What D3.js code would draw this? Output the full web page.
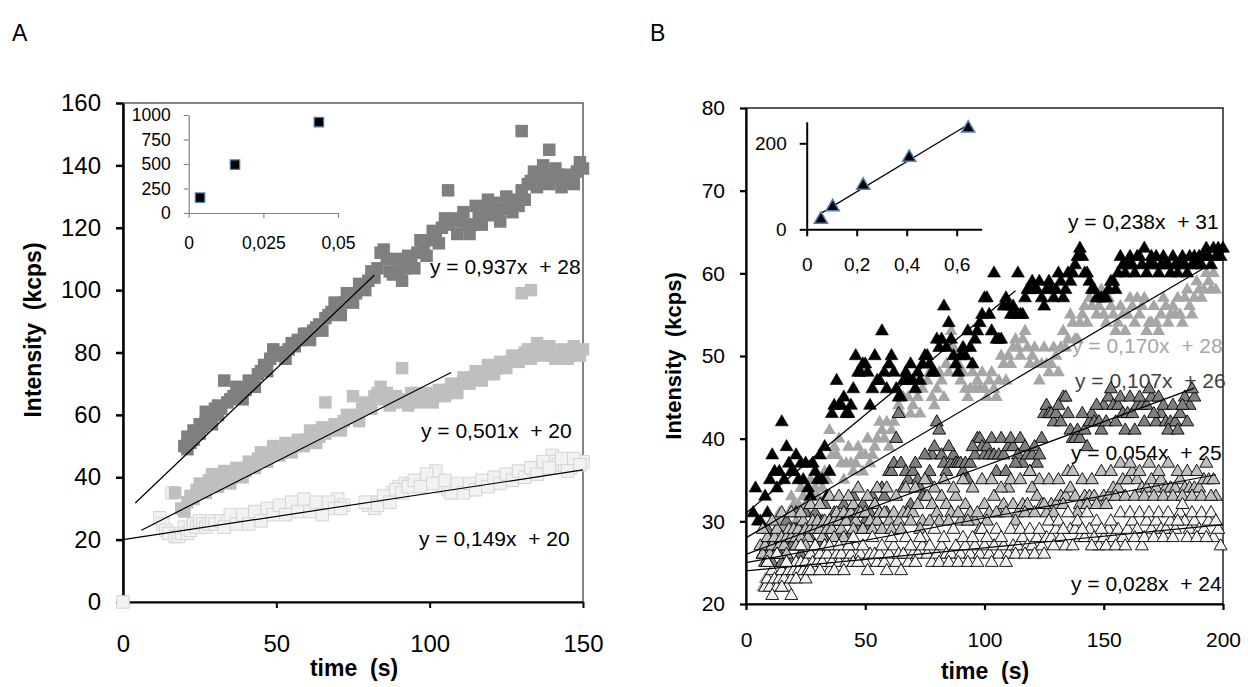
<!DOCTYPE html>
<html lang="en">
<head>
<meta charset="utf-8">
<title>Intensity vs time</title>
<script src="https://cdn.jsdelivr.net/npm/d3@7"></script>
<style>
  body { margin: 0; background: #fff; }
  svg { font-family: Arial, "Liberation Sans", sans-serif; }
</style>
</head>
<body>
<svg id="chart" width="1248" height="687"></svg>
<script>
// ---------- panel A data : [time s, intensity kcps] ----------
const aDark = [[20,50],[21,53],[22,51],[23,55],[24,54],[25,57],[26,56],[27,58],[28,60],[29,59],[30,62],[31,63],[32,62],[33,71],[34,64],[35,65],[36,66],[38,67],[40,68],[42,70],[44,73],[45,74],[46,76],[48,78],[50,79],[51,80],[52,80],[54,81],[56,82],[57,84],[58,84],[60,86],[62,87],[63,88],[64,89],[66,91],[67,92],[68,93],[70,94],[72,96],[74,98],[76,99],[78,101],[80,103],[82,104],[83,107],[84,112],[85,113],[86,110],[87,106],[88,105],[90,106],[92,107],[94,110],[96,112],[98,114],[100,116],[102,118],[104,120],[106,132],[106,121],[108,123],[110,122],[112,121],[114,121],[116,124],[118,126],[120,124],[122,125],[124,126],[126,127],[128,129],[130,132],[130,151],[132,134],[134,138],[136,137],[138,137],[139,145],[140,136],[142,137],[144,135],[146,136],[148,138],[150,139],
  [21,49],[23,52],[25,54],[27,61],[29,57],[31,60],[37,69],[39,65],[41,71],[43,69],[47,74],[49,81],[53,78],[55,83],[59,86],[61,84],[65,87],[69,96],[71,92],[73,99],[75,96],[77,102],[79,100],[81,106],
  [89,110],[91,103],[93,111],[95,107],[97,116],[99,111],[101,119],[103,115],[105,123],[109,118],[111,125],[113,118],[115,127],[117,121],[119,129],[121,128],[123,122],[125,130],[127,125],[129,127],[131,129],[133,135],[135,133],[137,140],[139,134],[141,139],[143,133],[145,137],[147,134],[149,141]];
const aLight = [[17,35],[19,30],[20,29],[21,32],[22,34],[24,36],[26,37],[28,39],[30,38],[32,40],[34,39],[36,40],[38,41],[40,42],[42,44],[44,46],[46,47],[48,47],[50,48],[52,48],[54,49],[56,50],[58,51],[60,52],[62,52],[64,53],[66,64],[66,54],[68,55],[70,56],[72,58],[74,59],[75,66],[76,60],[78,62],[80,63],[82,66],[84,69],[86,67],[88,64],[90,64],[91,75],[92,65],[94,67],[96,67],[98,66],[100,66],[102,66],[104,67],[106,68],[108,69],[110,70],[112,71],[114,72],[116,73],[118,74],[120,75],[122,75],[124,76],[126,77],[128,78],[130,99],[133,100],[130,79],[132,81],[134,81],[136,81],[138,80],[140,79],[142,79],[144,79],[146,80],[148,80],[150,81],
  [23,33],[25,38],[27,35],[29,41],[31,37],[33,42],[35,38],[37,43],[39,40],[41,45],[43,43],[45,48],[47,45],[49,50],[51,47],[53,51],[55,48],[57,52],[59,50],[61,55],[63,51],[65,56],[67,55],[69,57],[71,55],[73,60],[77,58],[79,64],[81,62],[83,67],[85,65],[87,63],[89,66],[93,63],[95,66],[97,64],[99,67],[101,64],[103,68],[105,66],[107,70],[109,67],[111,72],[113,70],[115,74],[117,71],[119,76],[121,73],[123,77],[125,75],[127,79],[129,77],[131,80],[133,78],[135,83],[137,79],[139,82],[141,78],[143,81],[145,78],[147,82],[149,79]];
const aPale = [[0,0],[12,27],[13,25],[14,23],[15,22],[16,35],[17,21],[18,21],[19,22],[20,24],[21,22],[22,23],[23,25],[24,24],[25,26],[26,25],[27,24],[28,25],[29,26],[30,25],[32,26],[34,26],[36,27],[38,26],[40,27],[42,27],[44,28],[46,28],[48,29],[50,29],[52,30],[54,30],[56,31],[58,32],[60,31],[62,30],[64,30],[66,30],[68,31],[70,33],[72,31],[80,31],[81,32],[82,30],[84,32],[86,33],[88,35],[90,37],[92,38],[94,38],[96,38],[98,39],[100,40],[102,42],[103,38],[104,37],[106,36],[108,36],[110,36],[112,36],[114,37],[116,37],[118,38],[120,38],[122,39],[124,40],[126,40],[128,41],[130,41],[132,42],[134,42],[136,43],[138,44],[140,47],[141,45],[142,44],[144,44],[146,43],[148,45],[150,45],
  [33,24],[35,28],[37,25],[39,28],[41,25],[43,29],[45,26],[47,30],[49,28],[51,31],[53,28],[55,32],[57,29],[59,33],[61,29],[63,32],[65,28],[67,32],[69,30],[71,30],[79,32],[83,31],[85,34],[87,32],[89,36],[91,35],[93,37],[95,39],[97,37],[99,41],[101,38],[105,39],[107,35],[109,38],[111,35],[113,38],[115,36],[117,39],[119,37],[121,40],[123,38],[125,41],[127,39],[129,42],[131,40],[133,43],[135,41],[137,45],[139,43],[143,46],[145,42],[147,46],[149,44]];
const aFitSlope = [0.937, 0.501, 0.149];
const aFitIntercept = [28, 20, 20];
const aFitRange = [[4,82],[6,107],[0,150]];
const aFitText = ["y = 0,937x  + 28", "y = 0,501x  + 20", "y = 0,149x  + 20"];
const aInset = [[0.0038,156],[0.0155,493],[0.0436,928]];
const aYTicks = [0,20,40,60,80,100,120,140,160];
const aXTicks = [0,50,100,150];
const aInsetYTicks = [0,250,500,750,1000];
const aInsetXTicks = [0,0.025,0.05];

// ---------- panel B data ----------
const bBlack = [[3,31],[4,34],[5,30],[6,30],[7,26],[8,33],[10,35],[11,38],[12,36],[13,34],[14,36],[15,42],[16,35],[18,37],[19,36],[20,36],[21,38],[22,35],[24,35],[25,37],[26,34],[28,37],[29,36],[30,35],[31,38],[32,35],[33,39],[34,33],[35,36],[36,43],[37,44],[38,47],[39,44],[40,44],[41,45],[42,43],[43,43],[44,44],[46,50],[47,48],[48,48],[49,49],[50,49],[51,48],[52,44],[53,46],[54,50],[55,47],[56,47],[57,53],[58,48],[60,49],[61,50],[62,48],[63,46],[64,45],[65,45],[66,47],[67,48],[68,47],[70,47],[71,46],[72,48],[74,49],[75,50],[76,50],[77,49],[78,48],[79,48],[80,52],[81,51],[82,52],[83,56],[84,51],[86,52],[87,50],[88,49],[90,50],[91,51],[92,50],[94,51],[96,52],[97,53],[98,54],[99,55],[100,57],[101,57],[102,55],[103,53],[104,60],[105,52],[106,52],[107,52],[108,56],[109,57],[110,56],[111,55],[112,56],[113,55],[114,60],[115,55],[116,55],[117,57],[118,58],[119,58],[120,59],[121,58],[122,58],[124,57],[126,58],[128,58],[130,58],[132,59],[134,58],[136,59],[137,60],[138,61],[139,62],[140,63],[141,62],[142,60],[143,60],[144,59],[145,58],[146,58],[147,57],[148,57],[149,57],[150,57],[151,57],[152,58],[153,59],[154,59],[156,60],[158,61],[160,61],[161,62],[162,61],[164,62],[165,62],[166,61],[168,60],[170,62],[171,61],[172,62],[174,61],[176,61],[178,60],[180,61],[182,61],[184,61],[186,62],[188,62],[190,62],[192,62],[194,62],[196,63],[198,63],[200,63],
  [9,31],[17,39],[23,37],[27,33],[45,46],[59,46],[69,49],[73,47],[85,54],[89,48],[93,53],[95,49],[123,59],[125,56],[127,59],[129,57],[131,60],[133,57],[135,60],[155,58],[157,62],[159,60],[163,60],[167,63],[169,61],[173,60],[175,62],[177,61],[179,62],[181,60],[183,62],[185,60],[187,61],[189,61],[191,61],[193,63],[195,61],[197,62],[199,62]];
const bGrey = [[7,22],[8,23],[9,25],[10,27],[11,26],[12,28],[13,30],[14,31],[15,29],[16,30],[18,31],[20,32],[22,32],[24,33],[25,32],[26,31],[28,33],[29,34],[30,33],[32,34],[34,35],[35,41],[36,38],[37,39],[38,38],[40,37],[42,37],[44,37],[46,37],[48,38],[50,38],[52,37],[54,39],[55,40],[56,42],[57,41],[58,40],[60,39],[61,41],[62,42],[64,44],[66,45],[68,45],[70,44],[72,45],[74,46],[75,50],[76,47],[78,45],[80,46],[82,47],[84,49],[86,53],[88,50],[89,49],[90,47],[92,46],[94,46],[96,46],[98,46],[100,46],[102,47],[104,46],[106,47],[108,49],[110,50],[112,51],[114,51],[116,52],[118,51],[120,50],[122,49],[124,49],[126,49],[128,49],[130,50],[132,51],[134,51],[136,55],[138,52],[140,54],[142,56],[144,57],[146,58],[148,56],[150,55],[152,57],[154,55],[156,54],[158,55],[160,55],[162,56],[164,57],[166,56],[168,53],[170,54],[172,54],[174,55],[176,56],[178,55],[180,55],[182,55],[184,57],[186,56],[188,57],[190,58],[192,58],[194,59],[196,60],[197,58],
  [17,29],[19,33],[21,30],[23,34],[27,35],[31,32],[33,36],[39,40],[41,35],[43,39],[45,36],[47,39],[49,36],[51,40],[53,38],[59,42],[63,40],[65,43],[67,47],[69,43],[71,46],[73,43],[77,48],[79,44],[81,48],[83,45],[85,48],[87,51],[91,48],[93,45],[95,48],[97,47],[99,48],[101,45],[103,48],[105,45],[107,50],[109,47],[111,49],[113,52],[115,50],[117,53],[119,49],[121,51],[123,47],[125,51],[127,48],[129,51],[131,48],[133,53],[135,52],[137,54],[139,52],[141,55],[143,54],[145,56],[147,55],[149,58],[151,54],[153,56],[155,53],[157,56],[159,53],[161,57],[163,54],[165,55],[167,57],[169,54],[171,56],[173,53],[175,57],[177,54],[179,56],[181,57],[183,54],[185,58],[187,55],[189,59],[191,57],[193,60],[195,58]];
const bDark = [[7,26],[8,25],[9,27],[10,26],[11,28],[12,27],[13,27],[14,26],[15,28],[16,24],[17,27],[18,28],[19,27],[20,28],[21,29],[22,27],[23,28],[24,29],[25,28],[26,29],[27,28],[28,29],[30,29],[32,30],[33,28],[34,29],[35,30],[36,29],[38,30],[40,30],[42,31],[44,30],[46,31],[47,29],[48,31],[50,30],[52,31],[54,32],[56,31],[58,33],[59,31],[60,36],[61,36],[62,37],[63,40],[64,43],[65,37],[66,34],[67,36],[68,35],[69,32],[70,36],[71,37],[72,35],[73,34],[74,33],[76,35],[78,38],[79,39],[80,42],[81,41],[82,38],[83,37],[84,36],[86,37],[87,38],[88,37],[89,37],[90,37],[91,36],[92,37],[94,37],[96,38],[97,40],[98,40],[99,39],[100,38],[101,39],[102,38],[104,38],[106,38],[108,38],[110,39],[112,39],[114,38],[116,37],[118,38],[120,38],[122,37],[124,40],[125,43],[126,44],[127,43],[128,43],[129,42],[130,43],[132,42],[133,45],[134,45],[135,43],[136,41],[137,40],[138,40],[139,41],[140,40],[142,41],[144,42],[145,43],[146,42],[148,42],[150,44],[152,45],[154,44],[156,44],[158,43],[160,43],[162,43],[164,44],[166,44],[168,44],[170,45],[172,42],[174,43],[176,42],[178,42],[180,42],[182,43],[184,45],[186,44],[188,45],
  [9,29],[11,25],[13,29],[15,25],[17,30],[19,25],[21,31],[23,26],[25,31],[27,26],[29,31],[31,27],[33,32],[37,31],[39,28],[41,32],[43,28],[45,33],[49,32],[51,29],[53,33],[55,30],[57,34],[75,38],[77,36],[85,39],[93,35],[95,39],[103,40],[105,36],[107,40],[109,36],[111,40],[113,37],[115,40],[117,39],[119,36],[121,39],[123,38],[131,44],[141,43],[143,39],[147,44],[149,41],[151,42],[153,46],[155,42],[157,45],[159,41],[161,45],[163,41],[165,45],[167,42],[169,46],[171,43],[173,45],[175,44],[177,41],[179,44],[181,41],[183,44],[185,42],[187,46]];
const bMid = [[6,27],[7,26],[8,27],[9,28],[10,26],[11,27],[12,28],[13,29],[14,27],[15,28],[16,27],[17,28],[18,29],[19,28],[20,29],[21,28],[22,29],[23,28],[24,30],[25,29],[26,28],[27,29],[28,30],[29,29],[30,30],[31,29],[32,28],[33,30],[34,29],[35,30],[36,29],[37,30],[38,31],[39,30],[40,29],[41,31],[42,30],[44,31],[45,32],[46,30],[47,31],[48,31],[50,31],[52,30],[54,32],[55,30],[56,31],[58,31],[60,30],[62,31],[64,30],[66,31],[68,31],[70,31],[72,32],[74,30],[76,33],[78,32],[80,31],[82,33],[84,32],[86,31],[88,33],[90,30],[92,32],[94,31],[96,30],[98,29],[100,32],[102,31],[104,33],[106,31],[108,32],[110,34],[112,32],[114,31],[116,32],[118,32],[120,34],[122,33],[124,32],[126,31],[128,32],[130,32],[132,33],[134,33],[135,36],[136,34],[138,33],[140,32],[142,33],[144,33],[146,33],[148,32],[150,33],[152,33],[154,34],[156,34],[158,35],[160,35],[162,36],[164,35],[166,34],[168,34],[170,35],[172,34],[174,35],[176,34],[178,34],[180,34],[182,35],[184,34],[186,34],[188,34],[190,34],[192,35],[194,35],[196,35],[197,33],
  [7,29],[9,25],[11,30],[13,26],[15,31],[17,26],[19,31],[21,27],[23,31],[25,27],[27,32],[29,27],[31,32],[33,27],[35,33],[37,28],[39,33],[41,28],[43,33],[45,29],[47,34],[49,29],[51,33],[53,29],[55,34],[57,29],[59,34],[61,29],[63,33],[65,29],[67,34],[69,30],[71,34],[73,29],[75,35],[77,30],[79,34],[81,30],[83,35],[85,30],[87,34],[89,31],[91,35],[93,30],[95,34],[97,31],[99,35],[101,30],[103,35],[105,31],[107,34],[109,31],[111,35],[113,30],[115,35],[117,31],[119,36],[121,31],[123,35],[125,32],[127,35],[129,31],[131,35],[133,32],[137,36],[139,31],[141,35],[143,32],[145,35],[147,32],[149,36],[151,32],[153,36],[155,33],[157,37],[159,33],[161,37],[163,33],[165,36],[167,33],[169,37],[171,33],[173,36],[175,33],[177,37],[179,33],[181,36],[183,33],[185,36],[187,33],[189,36],[191,33],[193,37],[195,33]];
const bPale = [[8,22],[9,23],[10,22],[11,24],[12,23],[13,22],[14,23],[15,24],[16,23],[17,22],[18,24],[19,23],[20,24],[21,25],[22,24],[23,25],[24,24],[25,25],[26,24],[27,26],[28,25],[29,24],[30,25],[31,26],[32,25],[34,26],[35,24],[36,25],[38,26],[39,25],[40,26],[42,25],[44,26],[45,25],[46,27],[48,26],[50,25],[52,26],[54,26],[55,25],[56,26],[58,25],[60,26],[62,27],[63,25],[64,26],[66,26],[68,25],[70,26],[72,26],[74,27],[75,28],[76,26],[78,25],[80,26],[82,27],[84,26],[86,26],[88,27],[90,26],[92,27],[94,26],[96,27],[98,26],[100,27],[102,26],[104,27],[106,26],[108,27],[110,26],[112,27],[114,27],[116,28],[118,27],[120,27],[122,28],[124,27],[126,28],[128,28],[130,29],[132,28],[134,27],[136,29],[138,29],[140,28],[142,28],[144,29],[146,28],[148,27],[150,28],[152,29],[154,28],[156,29],[158,28],[160,29],[162,30],[164,29],[166,27],[168,30],[170,29],[172,30],[174,29],[176,29],[178,30],[180,29],[182,31],[184,30],[186,29],[188,30],[190,29],[192,29],[194,30],[196,28],[198,29],[199,27],
  [9,25],[11,21],[13,26],[15,22],[17,25],[19,21],[21,23],[23,27],[25,23],[27,24],[29,27],[31,24],[33,27],[35,27],[37,24],[39,27],[41,24],[43,27],[45,28],[47,25],[49,27],[51,24],[53,28],[57,27],[59,24],[61,28],[65,24],[67,28],[69,27],[71,25],[73,28],[77,27],[79,29],[81,25],[83,28],[85,25],[87,29],[89,25],[91,28],[93,25],[95,28],[97,25],[99,29],[101,28],[103,25],[105,29],[107,28],[109,25],[111,29],[113,26],[115,29],[117,26],[119,29],[121,26],[123,29],[125,26],[127,30],[129,27],[131,30],[133,29],[135,31],[137,27],[139,30],[141,29],[143,31],[145,27],[147,30],[149,29],[151,27],[153,30],[155,27],[157,31],[159,27],[161,31],[163,28],[165,31],[167,28],[169,31],[171,28],[173,31],[175,28],[177,31],[179,28],[181,30],[183,32],[185,28],[187,31],[189,28],[191,31],[193,28],[195,31],[197,30]];
const bFitSlope = [0.238, 0.170, 0.107, 0.054, 0.028];
const bFitIntercept = [31, 28, 26, 25, 24];
const bFitRange = [[0,113],[0,196],[0,188],[0,197],[0,200]];
const bFitText = ["y = 0,238x  + 31", "y = 0,170x  + 28", "y = 0,107x  + 26", "y = 0,054x  + 25", "y = 0,028x  + 24"];
const bInset = [[0.057,23],[0.104,52],[0.226,102],[0.41,167],[0.646,235]];
const bInsetFit = [351, 17, 0.057, 0.653];
const bYTicks = [20,30,40,50,60,70,80];
const bXTicks = [0,50,100,150,200];
const bInsetYTicks = [0,200];
const bInsetXTicks = [0,0.2,0.4,0.6];

const svg = d3.select("#chart");
const decComma = d => d === 0 ? "0" : String(d).replace(".", ",");

function styleAxis(g, size, color, width) {
  g.selectAll(".domain").attr("stroke", color).attr("stroke-width", width);
  g.selectAll(".tick line").attr("stroke", color).attr("stroke-width", width);
  g.selectAll(".tick text").attr("fill", "#000").style("font-size", size + "px");
}

function markers(sel, data, x, y, sym, size, fill, stroke, sw) {
  sel.append("g").selectAll("path").data(data).join("path")
    .attr("transform", d => `translate(${x(d[0])},${y(d[1])})`)
    .attr("d", d3.symbol(sym, size))
    .attr("fill", fill)
    .attr("stroke", stroke)
    .attr("stroke-width", sw);
}

function fitLines(sel, x, y, slopes, intercepts, ranges, w) {
  sel.append("g").selectAll("line").data(slopes).join("line")
    .attr("x1", (m, i) => x(ranges[i][0]))
    .attr("x2", (m, i) => x(ranges[i][1]))
    .attr("y1", (m, i) => y(m * ranges[i][0] + intercepts[i]))
    .attr("y2", (m, i) => y(m * ranges[i][1] + intercepts[i]))
    .attr("stroke", "#000").attr("stroke-width", w);
}

// ================= Panel A =================
{
  const x = d3.scaleLinear().domain([0, 150]).range([123, 583]);
  const y = d3.scaleLinear().domain([0, 160]).range([602, 103]);
  const g = svg.append("g");

  g.append("text").attr("x", 12).attr("y", 41).style("font-size", "23px").text("A");

  g.append("rect").attr("x", 123).attr("y", 103).attr("width", 460).attr("height", 499)
    .attr("fill", "none").attr("stroke", "#333").attr("stroke-width", 1.2);

  g.append("g").attr("transform", "translate(0,602)")
    .call(d3.axisBottom(x).tickValues(aXTicks).tickSize(6).tickPadding(27).tickSizeOuter(0))
    .call(a => styleAxis(a, 24, "#000", 2));
  g.append("g").attr("transform", "translate(123,0)")
    .call(d3.axisLeft(y).tickValues(aYTicks).tickSize(7).tickPadding(15).tickSizeOuter(0))
    .call(a => styleAxis(a, 24, "#000", 2.5));

  g.append("text").attr("x", 354).attr("y", 676).attr("text-anchor", "middle")
    .style("font-size", "23px").style("font-weight", "bold").style("white-space", "pre")
    .text("time  (s)");
  g.append("text").attr("transform", "translate(41,330) rotate(-90)").attr("text-anchor", "middle")
    .style("font-size", "23px").style("font-weight", "bold").style("white-space", "pre")
    .text("Intensity  (kcps)");

  const labelPos = [[430,274],[421,438],[419,546]];
  g.append("g").selectAll("text").data(aFitText).join("text")
    .attr("x", (t, i) => labelPos[i][0]).attr("y", (t, i) => labelPos[i][1])
    .style("font-size", "21px").style("white-space", "pre").text(t => t);

  markers(g, aPale, x, y, d3.symbolSquare, 156, "#f2f2f2", "#d4d4d4", 1);
  markers(g, aLight, x, y, d3.symbolSquare, 156, "#bfbfbf", "none", 0);
  markers(g, aDark, x, y, d3.symbolSquare, 156, "#7f7f7f", "none", 0);

  fitLines(g, x, y, aFitSlope, aFitIntercept, aFitRange, 1.2);

  // inset
  const ix = d3.scaleLinear().domain([0, 0.05]).range([188.7, 338]);
  const iy = d3.scaleLinear().domain([0, 1000]).range([213, 115]);
  g.append("g").attr("transform", "translate(0,213)")
    .call(d3.axisBottom(ix).tickValues(aInsetXTicks).tickSize(5).tickPadding(19).tickSizeOuter(0)
      .tickFormat(decComma))
    .call(a => styleAxis(a, 17.5, "#868686", 1.2));
  g.append("g").attr("transform", "translate(188.7,0)")
    .call(d3.axisLeft(iy).tickValues(aInsetYTicks).tickSize(5).tickPadding(13).tickSizeOuter(0)
      .tickFormat(d3.format("d")))
    .call(a => styleAxis(a, 17.5, "#868686", 1.2));
  markers(g, aInset, ix, iy, d3.symbolSquare, 90, "#000", "#4f81bd", 1.2);
}

// ================= Panel B =================
{
  const x = d3.scaleLinear().domain([0, 200]).range([746, 1223]);
  const y = d3.scaleLinear().domain([20, 80]).range([604, 108]);
  const g = svg.append("g");

  g.append("text").attr("x", 650).attr("y", 41).style("font-size", "23px").text("B");

  g.append("rect").attr("x", 746).attr("y", 108).attr("width", 477).attr("height", 496)
    .attr("fill", "none").attr("stroke", "#222").attr("stroke-width", 1.5);

  g.append("g").attr("transform", "translate(0,604)")
    .call(d3.axisBottom(x).tickValues(bXTicks).tickSize(6).tickPadding(22).tickSizeOuter(0))
    .call(a => styleAxis(a, 21, "#000", 2.2));
  g.append("g").attr("transform", "translate(746,0)")
    .call(d3.axisLeft(y).tickValues(bYTicks).tickSize(6).tickPadding(15).tickSizeOuter(0))
    .call(a => styleAxis(a, 21, "#000", 2.2));

  g.append("text").attr("x", 985).attr("y", 679).attr("text-anchor", "middle")
    .style("font-size", "23px").style("font-weight", "bold").style("white-space", "pre")
    .text("time  (s)");
  g.append("text").attr("transform", "translate(681,356) rotate(-90)").attr("text-anchor", "middle")
    .style("font-size", "22px").style("font-weight", "bold").style("white-space", "pre")
    .text("Intensity  (kcps)");

  const labelPos = [[1068,229],[1072,353],[1075,388],[1071,460],[1071,591]];
  const labelCol = ["#000", "#a6a6a6", "#404040", "#000", "#000"];
  g.append("g").selectAll("text").data(bFitText).join("text")
    .attr("x", (t, i) => labelPos[i][0]).attr("y", (t, i) => labelPos[i][1])
    .attr("fill", (t, i) => labelCol[i])
    .style("font-size", "21px").style("white-space", "pre").text(t => t);

  const tri = d3.symbolTriangle;
  markers(g, bGrey, x, y, tri, 72, "#a6a6a6", "none", 0);
  markers(g, bBlack, x, y, tri, 72, "#000", "#000", 0.6);
  markers(g, bDark, x, y, tri, 72, "#7f7f7f", "#000", 0.9);
  markers(g, bMid, x, y, tri, 72, "#bfbfbf", "#000", 0.9);
  markers(g, bPale, x, y, tri, 72, "#f2f2f2", "#000", 0.9);

  fitLines(g, x, y, bFitSlope, bFitIntercept, bFitRange, 1.2);

  // inset
  const ix = d3.scaleLinear().domain([0, 0.7]).range([806.7, 981.7]);
  const iy = d3.scaleLinear().domain([0, 250]).range([229.3, 121.8]);
  g.append("g").attr("transform", "translate(0,229.3)")
    .call(d3.axisBottom(ix).tickValues(bInsetXTicks).tickSize(7).tickPadding(21).tickSizeOuter(0)
      .tickFormat(decComma))
    .call(a => styleAxis(a, 19, "#000", 2));
  g.append("g").attr("transform", "translate(806.7,0)")
    .call(d3.axisLeft(iy).tickValues(bInsetYTicks).tickSize(7).tickPadding(13).tickSizeOuter(0))
    .call(a => styleAxis(a, 19, "#000", 2));
  g.append("line")
    .attr("x1", ix(bInsetFit[2])).attr("y1", iy(bInsetFit[0] * bInsetFit[2] + bInsetFit[1]))
    .attr("x2", ix(bInsetFit[3])).attr("y2", iy(bInsetFit[0] * bInsetFit[3] + bInsetFit[1]))
    .attr("stroke", "#000").attr("stroke-width", 1.2);
  markers(g, bInset, ix, iy, tri, 75, "#000", "#4f81bd", 1.5);
}
</script>
</body>
</html>
